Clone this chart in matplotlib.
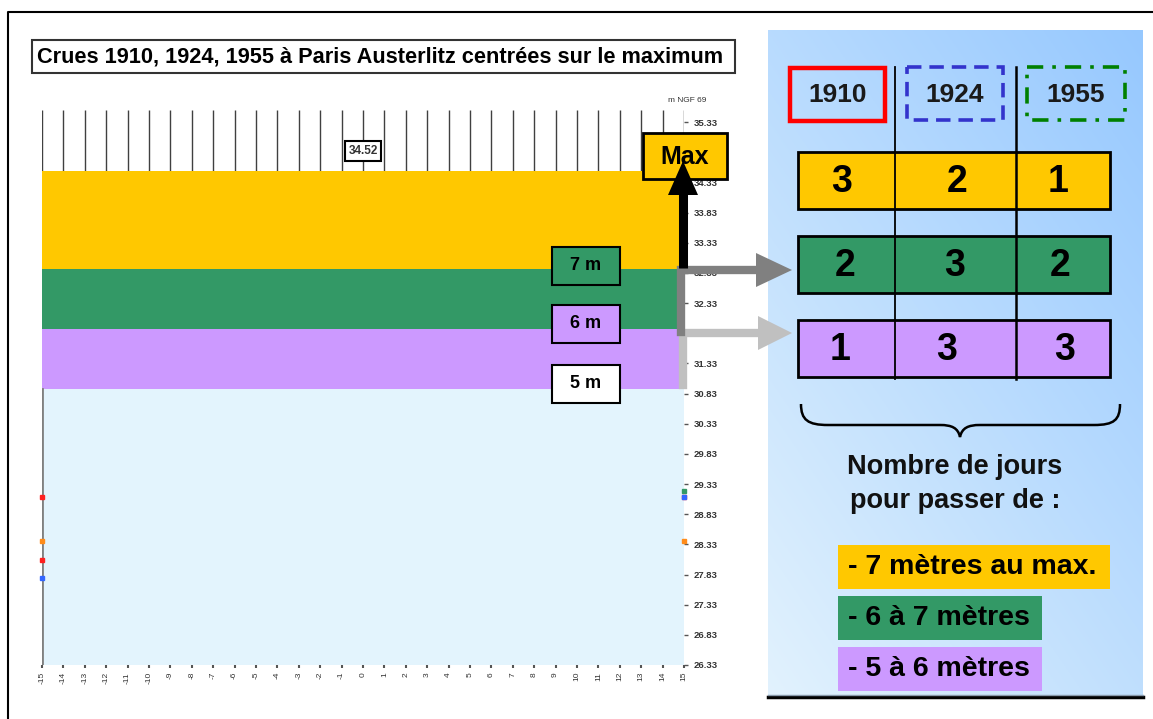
import matplotlib
matplotlib.use("Agg")
import matplotlib.pyplot as plt
from matplotlib.patches import Rectangle, Polygon, PathPatch
from matplotlib.path import Path
import numpy as np

plt.rcParams['font.family'] = ['Liberation Sans', 'DejaVu Sans']

# ---- data ----
days = list(range(-15, 16))
level_ticks = [26.33, 26.83, 27.33, 27.83, 28.33, 28.83, 29.33, 29.83, 30.33, 30.83,
               31.33, 31.83, 32.33, 32.83, 33.33, 33.83, 34.33, 34.83, 35.33]
gauge_zero = 25.90          # m NGF 69 at Austerlitz
band_5m = 30.90
band_6m = 31.90
band_7m = 32.90
max_1910 = 34.52

# tails of the three flood curves visible at the chart edges (day, level)
tail_days = [-15, -15, -15, -15, 15, 15, 15, 15]
tail_levels = [29.11, 28.38, 28.07, 27.77, 29.21, 29.11, 29.11, 28.38]
tail_colors = ['#ff2020', '#ff8c1a', '#ff2020', '#3366ff',
               '#339966', '#ff2020', '#3366ff', '#ff8c1a']

years = ['1910', '1924', '1955']
days_7m_to_max = [3, 2, 1]
days_6_to_7 = [2, 3, 2]
days_5_to_6 = [1, 3, 3]
legend_labels = ['- 7 mètres au max.', '- 6 à 7 mètres', '- 5 à 6 mètres']

yellow = '#FFC800'
green = '#339966'
purple = '#CC99FF'
lightblue = '#E3F4FD'

W, H = 1153, 719
fig = plt.figure(figsize=(W / 100, H / 100), dpi=100)

# ---- chart axes ----
ax = fig.add_axes([42 / W, (H - 665) / H, 642 / W, 555 / H])
ax.set_xlim(-15, 15)
ax.set_ylim(26.33, 35.53)
ax.patch.set_alpha(0)

ax.vlines(days, 26.33, 35.53, colors='#404040', linewidth=1, zorder=1)
ax.fill_between([-15, 15], 26.33, band_5m, color=lightblue, zorder=2, linewidth=0)
ax.fill_between([-15, 14.75], band_5m, band_6m, color=purple, zorder=2, linewidth=0)
ax.fill_between([-15, 14.75], band_6m, band_7m, color=green, zorder=2, linewidth=0)
ax.fill_between([-15, 14.75], band_7m, max_1910, color=yellow, zorder=2, linewidth=0)
ax.axvline(-15, ymin=0, ymax=(band_5m - 26.33) / 9.2, color='#808080', lw=2, zorder=3)

for d, lv, c in zip(tail_days, tail_levels, tail_colors):
    ax.plot([d], [lv], marker='s', ms=2.5, color=c, clip_on=False, zorder=4, lw=0)

for s in ['left', 'right', 'top', 'bottom']:
    ax.spines[s].set_visible(False)

# the 34.83 label sits under the "Max" box in the original, so it is left blank
ytick_labels = [f"{v:.2f}" if v != 34.83 else "" for v in level_ticks]
ax.yaxis.tick_right()
ax.set_yticks(level_ticks)
ax.set_yticklabels(ytick_labels, fontsize=6.8, fontweight='bold', color='#333333')
ax.tick_params(axis='y', length=3, width=1, color='#555555', pad=4)
ax.set_xticks(days)
ax.set_xticklabels([str(d) for d in days], rotation=90, fontsize=6, color='#333333')
ax.tick_params(axis='x', length=2, width=1.5, color='#555555', pad=3)

ax.text(0, 34.85, f"{max_1910:.2f}", ha='center', va='center', fontsize=8.5, fontweight='bold',
        color='#333333', zorder=5,
        bbox=dict(boxstyle='square,pad=0.3', fc='white', ec='black', lw=1.5))

# ---- overlay in pixel coordinates ----
ov = fig.add_axes([0, 0, 1, 1])
ov.axis('off')
ov.patch.set_alpha(0)

# right panel gradient
gx = np.linspace(0, 1, 200)
gy = np.linspace(0, 1, 300)
GX, GY = np.meshgrid(gx, gy)
t = np.clip(0.55 * (1 - GY) + 0.45 * GX, 0, 1)[..., None]
light = np.array([226, 242, 253]) / 255
dark = np.array([150, 200, 255]) / 255
img = light * (1 - t) + dark * t
ov.imshow(img, extent=[768, 1143, 697, 30], aspect='auto', zorder=0)
ov.plot([768, 1143], [697, 697], color='black', lw=2.5, zorder=1)
ov.plot([768, 1143], [694.5, 694.5], color='#8899aa', lw=1, zorder=1)

ov.set_xlim(0, W)
ov.set_ylim(H, 0)

# figure border
ov.plot([8, 8, W], [H, 12, 12], color='black', lw=1.5, zorder=1)

# title box
ov.add_patch(Rectangle((32, 40), 703, 33, fc='white', ec='#333333', lw=1.5, zorder=2))
ov.text(37, 57, "Crues 1910, 1924, 1955 à Paris Austerlitz centrées sur le maximum",
        ha='left', va='center', fontsize=15.7, fontweight='bold', zorder=3)
ov.text(706, 100, "m NGF 69", ha='right', va='center', fontsize=6, color='#333333')

# level labels
for (y0, fc, lab) in [(247, green, '7 m'), (305, purple, '6 m'), (365, 'white', '5 m')]:
    ov.add_patch(Rectangle((552, y0), 68, 38, fc=fc, ec='black', lw=1.5, zorder=3))
    ov.text(586, y0 + 19, lab, ha='center', va='center', fontsize=13, fontweight='bold', zorder=4)

# gray arrows towards the table
ov.plot([683, 683, 762], [385, 333, 333], color='#C0C0C0', lw=6, solid_joinstyle='miter', zorder=3)
ov.add_patch(Polygon([[758, 316], [792, 333], [758, 350]], closed=True, fc='#C0C0C0', ec='none', zorder=3))
ov.plot([681, 681, 760], [332, 270, 270], color='#808080', lw=6, solid_joinstyle='miter', zorder=3)
ov.add_patch(Polygon([[756, 253], [792, 270], [756, 287]], closed=True, fc='#808080', ec='none', zorder=3))

# Max box and black arrow
ov.add_patch(Rectangle((643, 133), 84, 46, fc=yellow, ec='black', lw=2, zorder=4))
ov.text(685, 157, "Max", ha='center', va='center', fontsize=18, fontweight='bold', zorder=5)
ov.plot([683, 683], [268, 190], color='black', lw=6.5, zorder=6, solid_capstyle='butt')
ov.add_patch(Polygon([[668, 195], [683, 161], [698, 195]], closed=True, fc='black', ec='none', zorder=6))

# year boxes
ov.add_patch(Rectangle((790, 68), 95, 53, fill=False, ec='#FF0000', lw=3.2, zorder=3))
ov.add_patch(Rectangle((907, 67), 96, 53, fill=False, ec='#3333CC', lw=2.6, ls=(0, (4, 2.2)), zorder=3))
ov.add_patch(Rectangle((1027, 67), 98, 53, fill=False, ec='#008000', lw=2.6, ls=(0, (4.5, 2.5, 1, 2.5)), zorder=3))
year_x = [838, 955, 1076]
for x, yr in zip(year_x, years):
    ov.text(x, 95, yr, ha='center', va='center', fontsize=19, fontweight='bold', color='#1a1a1a', zorder=4)

# table rows
rows = [(152, yellow, days_7m_to_max, [842, 957, 1058]),
        (236, green, days_6_to_7, [845, 955, 1060]),
        (320, purple, days_5_to_6, [840, 947, 1065])]
for y0, fc, vals, xs in rows:
    ov.add_patch(Rectangle((798, y0), 312, 57, fc=fc, ec='black', lw=2, zorder=3))
    for x, v in zip(xs, vals):
        ov.text(x, y0 + 30, str(v), ha='center', va='center', fontsize=27, fontweight='bold', zorder=5)
ov.plot([895, 895], [67, 379], color='black', lw=1.3, zorder=4)
ov.plot([1016, 1016], [67, 379], color='black', lw=1.8, zorder=4)

# brace
verts = [(801, 404), (801, 420), (808, 425), (828, 425),
         (940, 425), (952, 425), (958, 428), (960, 437),
         (962, 428), (968, 425), (980, 425),
         (1094, 425), (1114, 425), (1120, 420), (1120, 404)]
codes = [Path.MOVETO, Path.CURVE4, Path.CURVE4, Path.CURVE4,
         Path.LINETO, Path.CURVE4, Path.CURVE4, Path.CURVE4,
         Path.CURVE4, Path.CURVE4, Path.CURVE4,
         Path.LINETO, Path.CURVE4, Path.CURVE4, Path.CURVE4]
ov.add_patch(PathPatch(Path(verts, codes), fill=False, ec='black', lw=1.8, zorder=3))

ov.text(955, 467, "Nombre de jours", ha='center', va='center', fontsize=19.5, fontweight='bold', color='#111111')
ov.text(955, 501, "pour passer de :", ha='center', va='center', fontsize=19.5, fontweight='bold', color='#111111')

# legend boxes
for (y0, w, fc), lab in zip([(545, 272, yellow), (596, 204, green), (647, 204, purple)], legend_labels):
    ov.add_patch(Rectangle((838, y0), w, 44, fc=fc, ec='none', zorder=3))
    ov.text(848, y0 + 22, lab, ha='left', va='center', fontsize=20.5, fontweight='bold', zorder=4)

fig.savefig("out.png", dpi=100)
